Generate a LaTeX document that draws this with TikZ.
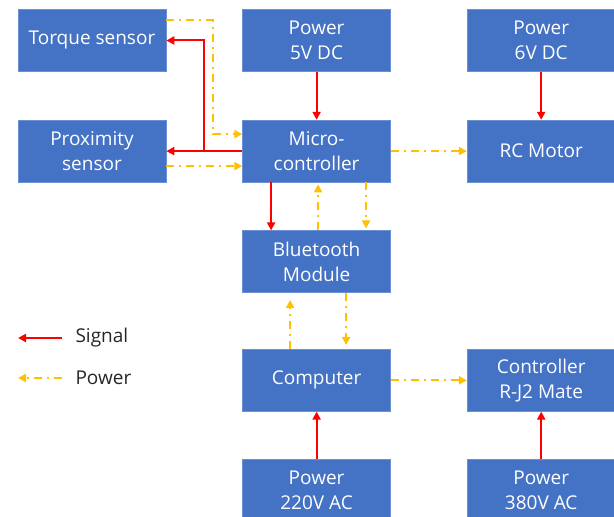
\documentclass[tikz,border=0pt]{standalone}
\usepackage{fontspec}
\setmainfont{Open Sans}
\usepackage{xcolor}
\usepackage{tikz}
\usetikzlibrary{arrows.meta,positioning}
\definecolor{boxblue}{HTML}{4472C4}
\definecolor{boxedge}{HTML}{6A8FD3}
\definecolor{sigred}{HTML}{FF0000}
\definecolor{pwryellow}{HTML}{FFC000}
\definecolor{legendtext}{HTML}{262626}

\begin{document}
\begin{tikzpicture}[
    x=1pt,y=1pt,
    node distance=48pt and 76pt,
    box/.style={draw=boxedge,line width=0.6pt,fill=boxblue,minimum width=148pt,minimum height=62pt,
      inner sep=0pt,align=center,text=white,font=\fontsize{19}{25}\selectfont},
    sig/.style={-{Triangle[length=8pt,width=8pt]},line width=2pt,draw=sigred},
    pwr/.style={-{Triangle[length=8pt,width=8pt]},line width=2pt,draw=pwryellow,
      dash pattern=on 8pt off 5pt on 2pt off 5pt},
    legend/.style={anchor=west,text=legendtext,font=\fontsize{19}{22}\selectfont}
  ]
    \useasboundingbox (0,0) rectangle (614,517);
    % blocks
    \node[box] (torque) at (92,476.5) {Torque sensor};
    \node[box,below=of torque] (prox) {Proximity\\sensor};
    \node[box,right=of torque] (p5) {Power\\5V DC};
    \node[box,right=of p5] (p6) {Power\\6V DC};
    \node[box,below=of p5] (mcu) {Micro-\\controller};
    \node[box,below=of p6] (rc) {RC Motor};
    \node[box,below=of mcu] (bt) {Bluetooth\\Module};
    \node[box,below=56pt of bt] (pc) {Computer};
    \node[box,right=of pc] (ctrl) {Controller\\R-J2 Mate};
    \node[box,below=47pt of pc] (p220) {Power\\220V AC};
    \node[box,below=47pt of ctrl] (p380) {Power\\380V AC};
    % signal lines
    \draw[sig] (p5) -- (mcu);
    \draw[sig] (p6) -- (rc);
    \draw[sig] (p220) -- (pc);
    \draw[sig] (p380) -- (ctrl);
    \draw[sig] (mcu.west) -- (prox.east);
    \coordinate (branch) at (204,367);
    \draw[sig] (branch) |- (torque.east);
    \draw[sig] ([xshift=-45.5pt]mcu.south) -- ([xshift=-45.5pt]bt.north);
    % power lines
    \coordinate (corner) at (213,496.5);
    \draw[pwr] ([yshift=20pt]torque.east) -- (corner) |- ([yshift=17pt]mcu.west);
    \draw[pwr] ([yshift=-15pt]prox.east) -- ([yshift=-15pt]mcu.west);
    \draw[pwr] (mcu) -- (rc);
    \draw[pwr] (pc) -- (ctrl);
    \draw[pwr] ([xshift=1.5pt]bt.north) -- ([xshift=1.5pt,yshift=-2pt]mcu.south);
    \draw[pwr] ([xshift=49.5pt]mcu.south) -- ([xshift=49.5pt,yshift=2pt]bt.north);
    \draw[pwr] ([xshift=-26.5pt]pc.north) -- ([xshift=-26.5pt,yshift=-7pt]bt.south);
    \draw[pwr] ([xshift=29.5pt]bt.south) -- ([xshift=29.5pt,yshift=4pt]pc.north);
    % legend
    \coordinate (sigR) at (62,179);
    \coordinate (sigL) at (18,179);
    \coordinate (pwrR) at (62,139);
    \coordinate (pwrL) at (18,139);
    \draw[sig] (sigR) -- (sigL);
    \draw[pwr] (pwrR) -- (pwrL);
    \node[legend] (sigtxt) at (72,179) {Signal};
    \node[legend] (pwrtxt) at (72,139) {Power};
  \end{tikzpicture}
\end{document}
